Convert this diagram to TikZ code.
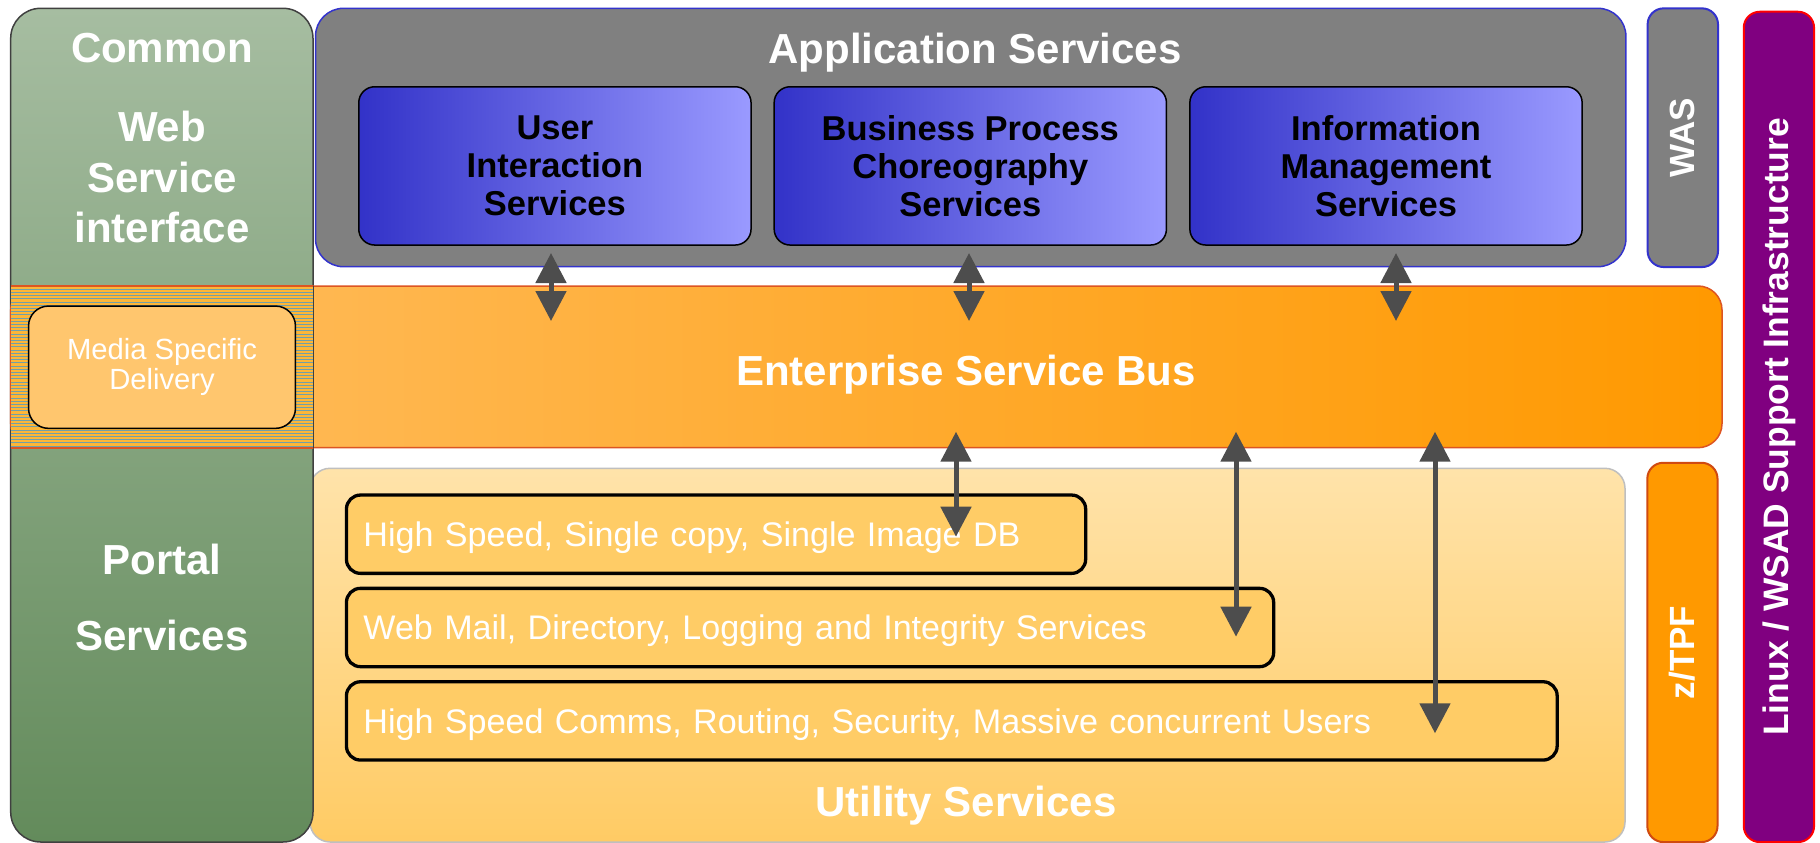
\documentclass[tikz,border=0pt]{standalone}
\usepackage{fontspec}
\setmainfont{Liberation Sans}
\usetikzlibrary{arrows.meta,fit,calc}

\definecolor{webgreen}{HTML}{A6BDA1}
\definecolor{portalgreen}{HTML}{638B5B}
\definecolor{appgray}{HTML}{808080}
\definecolor{appblue}{HTML}{3333CC}
\definecolor{svcdark}{HTML}{3232C8}
\definecolor{svclight}{HTML}{9A9AFF}
\definecolor{infrapurple}{HTML}{800080}
\definecolor{busleft}{HTML}{FFBE62}
\definecolor{busright}{HTML}{FF9900}
\definecolor{busline}{HTML}{DD5522}
\definecolor{hatchbg}{HTML}{FDB638}
\definecolor{hatchline}{HTML}{72A0A8}
\definecolor{mediafill}{HTML}{FFC66E}
\definecolor{utiltop}{HTML}{FFE3AA}
\definecolor{utilbottom}{HTML}{FFCB64}
\definecolor{utilborder}{HTML}{BFBFBF}
\definecolor{layerfill}{HTML}{FFCC66}
\definecolor{tpforange}{HTML}{FF9900}
\definecolor{tpfline}{HTML}{D04A10}
\definecolor{arrowgray}{HTML}{4D4D4D}

\tikzset{
  bigtxt/.style={text=white, font=\fontsize{42}{50.5}\selectfont\bfseries, align=center},
  svcbox/.style={draw=black, line width=1.5pt, rounded corners=16pt,
    left color=svcdark, right color=svclight, inner sep=0pt,
    minimum width=392.3pt, minimum height=158.3pt,
    text=black, align=center, font=\fontsize{34.5}{37.8}\selectfont\bfseries},
  sidebox/.style={line width=2pt, rounded corners=16pt, rotate=90, inner sep=0pt,
    text=white, font=\fontsize{35}{40}\selectfont\bfseries},
  layer/.style={draw=black, line width=3.3pt, rounded corners=14pt, fill=layerfill,
    anchor=west, align=left, inner xsep=17pt, text height=24.8pt, text depth=0pt,
    minimum height=78.3pt, text=white, font=\fontsize{34.1}{40}\selectfont},
  link/.style={draw=arrowgray, line width=5pt,
    {Triangle[length=30pt,width=30pt]}-{Triangle[length=30pt,width=30pt]}}
}

\begin{document}
\begin{tikzpicture}[x=1pt,y=-1pt]
\useasboundingbox (0,0) rectangle (1820,843);

\coordinate (U1) at (551,253);
\coordinate (U2) at (551,321);
\coordinate (B1) at (969,253);
\coordinate (B2) at (969,321);
\coordinate (I1) at (1396,253);
\coordinate (I2) at (1396,321);
\coordinate (D1) at (956,431.7);
\coordinate (D2) at (956,536.7);
\coordinate (M1) at (1236,431.7);
\coordinate (M2) at (1236,636.7);
\coordinate (C1) at (1435,431.7);
\coordinate (C2) at (1435,733.3);

\node[fit={(310,468.3) (1625,842)}, inner sep=0pt, draw=utilborder, line width=1.5pt,
  rounded corners=20pt, top color=utiltop, bottom color=utilbottom] (util) {};
\node[fit={(10.7,8.3) (313,842)}, inner sep=0pt, draw=black!75, line width=1.5pt,
  rounded corners=30pt, top color=webgreen, bottom color=portalgreen] (common) {};

% application services
\node[fit={(315.5,8.3) (1625.9,266.7)}, inner sep=0pt, draw=appblue, line width=1.5pt,
  rounded corners=28pt, fill=appgray] (app) {};
\node[svcbox] (uis) at (554.9,165.9) {User\\Interaction\\Services};
\node[svcbox] (bpc) at (970.3,165.9) {Business Process\\Choreography\\Services};
\node[svcbox] (ims) at (1386,165.9) {Information\\Management\\Services};

\node[sidebox, fill=appgray, draw=appblue, minimum width=258.7pt, minimum height=70.4pt] (was) at (1682.8,137.7) {WAS};
\node[sidebox, fill=infrapurple, draw=red, minimum width=830.3pt, minimum height=70.3pt,
  font=\fontsize{35.4}{40}\selectfont\bfseries] (infra) at (1778.9,426.9) {Linux / WSAD Support Infrastructure};
\node[sidebox, fill=tpforange, draw=tpfline, minimum width=379.3pt, minimum height=70.2pt] (tpf) at (1682.4,652.4) {z/TPF};

% bus, with the hatched strip over the green column
\node[fit={(10.7,286) (1722,447.7)}, inner sep=0pt, draw=busline, line width=1.5pt,
  rounded corners=24pt, left color=busleft, right color=busright] (esb) {};
\fill[hatchbg] (10.7,286) rectangle (313,447.7);
\foreach \y in {289.2,292.4,...,446}
  \draw[hatchline, line width=0.9pt] (10.7,\y) -- (313,\y);
\draw[busline, line width=2pt] (10.7,286) -- (313,286) (10.7,447.7) -- (313,447.7);
\draw[black!75, line width=1pt] (313,286) -- (313,447.7);
\node[draw=black, line width=1.5pt, rounded corners=20pt, fill=mediafill,
  minimum width=266.9pt, minimum height=122.3pt, inner sep=0pt, text=white, align=center,
  font=\fontsize{29.2}{30}\selectfont] (msd) at (162,367.2) {Media Specific\\Delivery};

\node[bigtxt, anchor=base] (apptxt) at (975,63.7) {Application Services};
\node[bigtxt] (webtxt) at (162,138.4) {Common\\[28.5pt]Web\\Service\\interface};
\node[bigtxt, font=\fontsize{42}{76.5}\selectfont\bfseries] (portaltxt) at (162,597.5) {Portal\\Services};
\node[bigtxt, anchor=base] (esbtxt) at (966,385) {Enterprise Service Bus};
\node[bigtxt, anchor=base] (utiltxt) at (966,816) {Utility Services};

% utility layers
\node[layer, text width=705.2pt] (db) at (344.8,534.2) {High Speed, Single copy, Single Image DB};
\node[layer, text width=893.2pt] (mail) at (344.8,627.5) {Web Mail, Directory, Logging and Integrity Services};
\node[layer, text width=1176.7pt] (comms) at (344.8,720.9) {High Speed Comms, Routing, Security, Massive concurrent Users};

\path[link] (U1) -- (U2);
\path[link] (B1) -- (B2);
\path[link] (I1) -- (I2);
\path[link] (D1) -- (D2);
\path[link] (M1) -- (M2);
\path[link] (C1) -- (C2);

\end{tikzpicture}
\end{document}
